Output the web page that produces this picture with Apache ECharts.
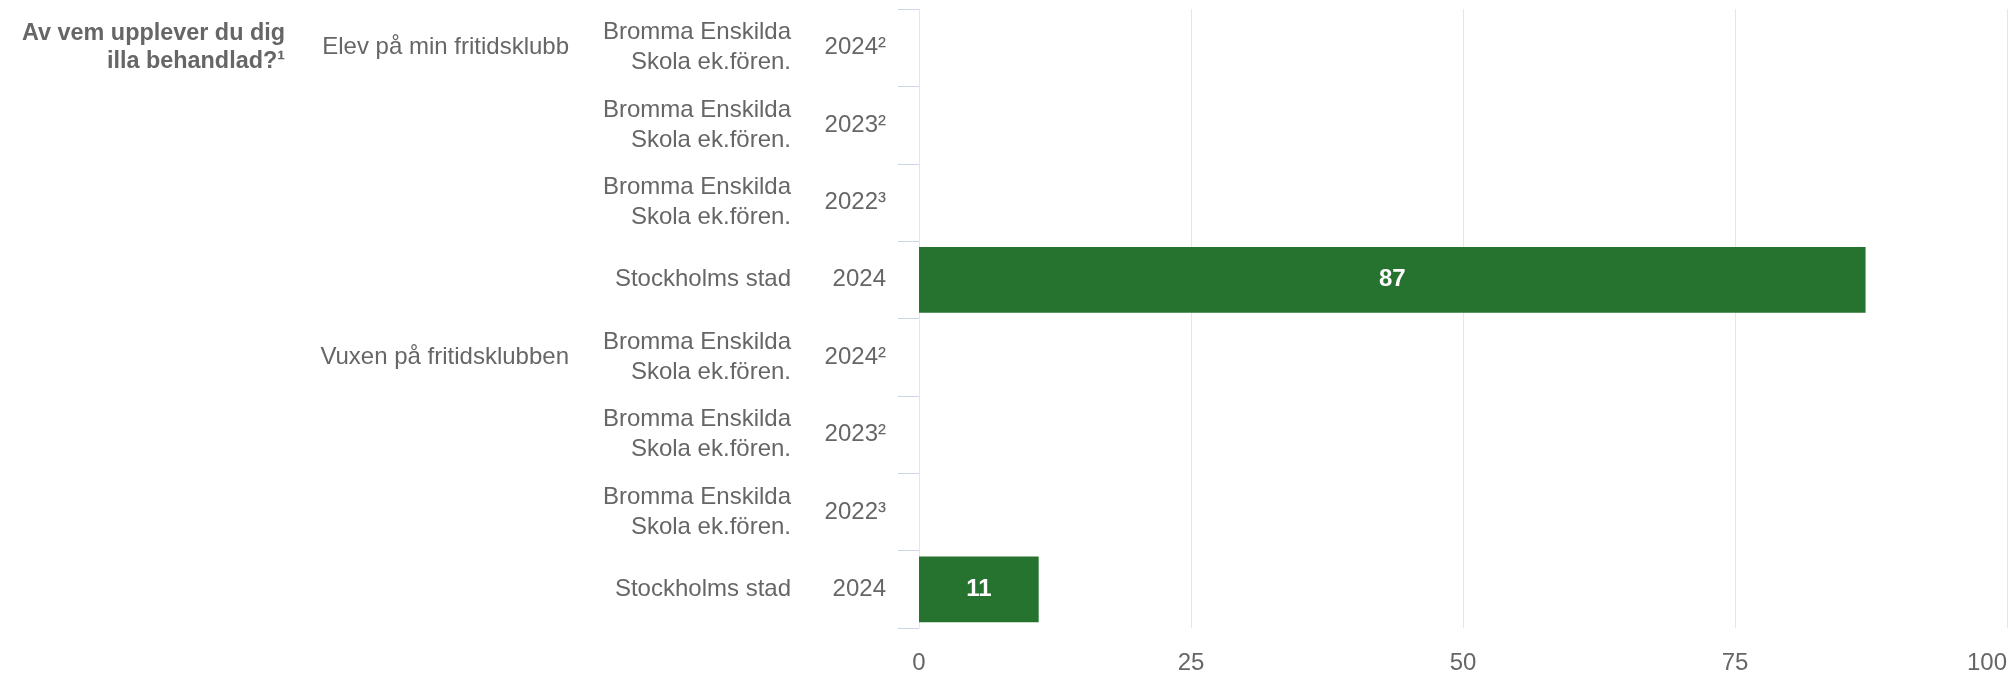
<!DOCTYPE html>
<html>
<head>
<meta charset="utf-8">
<script src="https://cdn.jsdelivr.net/npm/echarts@6/dist/echarts.min.js"></script>
<style>
html,body{margin:0;padding:0;background:#fff;}
#chart{width:2015px;height:675px;}
</style>
</head>
<body>
<div id="chart"></div>
<script>
const questionTitle = 'Av vem upplever du dig\nilla behandlad?¹';
const groups = ['Elev på min fritidsklubb', 'Vuxen på fritidsklubben'];
const groupSize = 4;
const units = [
  'Bromma Enskilda\nSkola ek.fören.', 'Bromma Enskilda\nSkola ek.fören.', 'Bromma Enskilda\nSkola ek.fören.', 'Stockholms stad',
  'Bromma Enskilda\nSkola ek.fören.', 'Bromma Enskilda\nSkola ek.fören.', 'Bromma Enskilda\nSkola ek.fören.', 'Stockholms stad'
];
const years = ['2024²', '2023²', '2022³', '2024', '2024²', '2023²', '2022³', '2024'];
const values = [null, null, null, 87, null, null, null, 11];
const xTicks = [0, 25, 50, 75, 100];

const groupLabels = units.map((u, i) => (i % groupSize === 0 ? groups[i / groupSize] : ''));
const titleLabels = units.map((u, i) => (i === 0 ? questionTitle : ''));

const font = 'Liberation Sans, Arial, sans-serif';
const chart = echarts.init(document.getElementById('chart'));

function extraAxis(data, margin, extra) {
  return {
    type: 'category',
    inverse: true,
    position: 'left',
    data: data,
    axisLine: { show: false },
    axisTick: { show: false },
    splitLine: { show: false },
    axisLabel: Object.assign({
      interval: 0,
      margin: margin,
      color: '#666666',
      fontSize: 24,
      fontFamily: font,
      lineHeight: 30,
      align: 'right',
      padding: [5, 0, 0, 0]
    }, extra || {})
  };
}

const option = {
  animation: false,
  textStyle: { fontFamily: font },
  grid: { left: 919, right: 8, top: 9, bottom: 45, containLabel: false },
  xAxis: {
    type: 'value',
    min: xTicks[0],
    max: xTicks[xTicks.length - 1],
    interval: xTicks[1] - xTicks[0],
    axisLine: { show: false },
    axisTick: { show: false },
    splitLine: { show: true, lineStyle: { color: '#e6e6e6', width: 1 } },
    axisLabel: {
      color: '#666666',
      fontSize: 24,
      fontFamily: font,
      margin: 23,
      alignMaxLabel: 'right'
    }
  },
  yAxis: [
    {
      type: 'category',
      inverse: true,
      position: 'left',
      data: years,
      axisLine: { show: true, lineStyle: { color: '#e6e6e6', width: 1 } },
      axisTick: { show: true, length: 21, lineStyle: { color: '#ccd6eb', width: 1 } },
      splitLine: { show: false },
      axisLabel: { interval: 0, margin: 33, color: '#666666', fontSize: 24, fontFamily: font, padding: [5, 0, 0, 0] }
    },
    extraAxis(units, 128),
    extraAxis(groupLabels, 350),
    extraAxis(titleLabels, 634, { fontWeight: 'bold', fontSize: 23.4, lineHeight: 28, padding: [7, 0, 0, 0] })
  ],
  series: [{
    type: 'bar',
    yAxisIndex: 0,
    data: values,
    barCategoryGap: '15%',
    itemStyle: { color: '#26732f' },
    label: {
      show: true,
      position: 'inside',
      color: '#ffffff',
      fontWeight: 'bold',
      fontSize: 24,
      fontFamily: font
    }
  }]
};
chart.setOption(option);
</script>
</body>
</html>
